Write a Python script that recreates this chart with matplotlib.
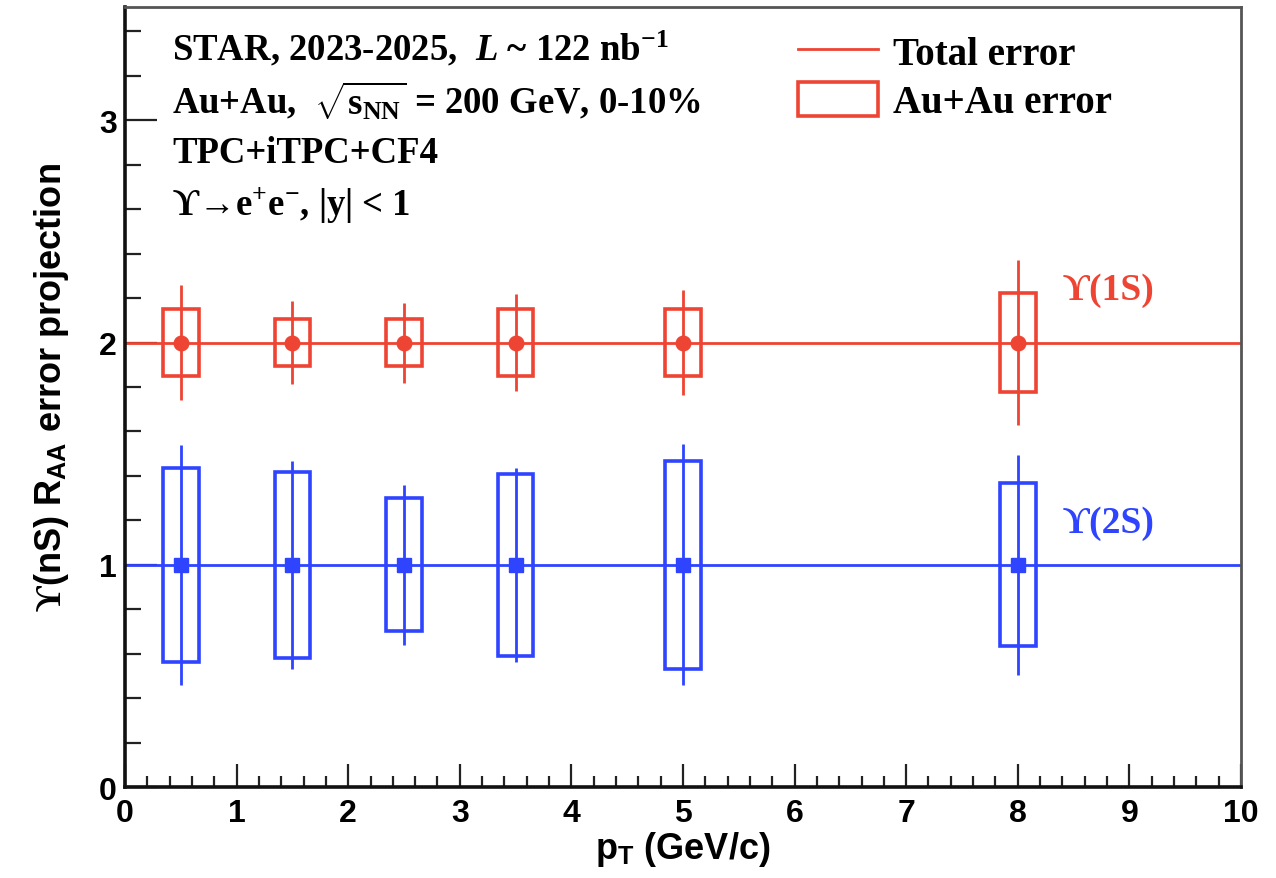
import matplotlib
matplotlib.use("Agg")
import matplotlib.pyplot as plt
from matplotlib.patches import Rectangle, Patch
from matplotlib.lines import Line2D
from matplotlib.ticker import MultipleLocator

plt.rcParams['mathtext.fontset'] = 'custom'
plt.rcParams['mathtext.rm'] = 'Liberation Serif:bold'
plt.rcParams['mathtext.bf'] = 'Liberation Serif:bold'
plt.rcParams['mathtext.it'] = 'Liberation Serif:italic:bold'
plt.rcParams['mathtext.sf'] = 'Liberation Sans:bold'

# pT bin centres (GeV/c)
pt = [0.5, 1.5, 2.5, 3.5, 5.0, 8.0]

# Y(1S): central value, total error, Au+Au error
raa_1s = [2.0, 2.0, 2.0, 2.0, 2.0, 2.0]
tot_1s = [0.26, 0.185, 0.18, 0.22, 0.237, 0.372]
auau_1s = [0.15, 0.105, 0.105, 0.15, 0.15, 0.222]

# Y(2S)
raa_2s = [1.0, 1.0, 1.0, 1.0, 1.0, 1.0]
tot_2s = [0.54, 0.468, 0.36, 0.436, 0.543, 0.495]
auau_2s = [0.437, 0.418, 0.30, 0.41, 0.467, 0.366]

RED = '#ee4433'
BLUE = '#2e44ff'
BOX_HW = 0.16

fig = plt.figure(figsize=(12.76, 8.79), dpi=100)
ax = fig.add_axes([0.098, 0.1035, 0.8745, 0.8875])

def draw_state(vals, tot, auau, color, marker, ms, ref):
    ax.axhline(ref, color=color, lw=2.0, zorder=2)
    for x, y, e in zip(pt, vals, auau):
        ax.add_patch(Rectangle((x - BOX_HW, y - e), 2 * BOX_HW, 2 * e,
                               fill=False, edgecolor=color, lw=2.6, zorder=3))
    ax.errorbar(pt, vals, yerr=tot, fmt=marker, color=color, ms=ms,
                elinewidth=2.0, capsize=0, zorder=4)

draw_state(raa_1s, tot_1s, auau_1s, RED, 'o', 10.5, 2.0)
draw_state(raa_2s, tot_2s, auau_2s, BLUE, 's', 10, 1.0)

ax.set_xlim(0, 10)
ax.set_ylim(0, 3.51)
ax.xaxis.set_major_locator(MultipleLocator(1))
ax.xaxis.set_minor_locator(MultipleLocator(0.2))
ax.yaxis.set_major_locator(MultipleLocator(1))
ax.yaxis.set_minor_locator(MultipleLocator(0.2))
ax.tick_params(which='both', direction='in', top=False, right=False, width=1.6, color='#222222')
ax.tick_params(axis='y', which='major', length=23, pad=6)
ax.tick_params(axis='y', which='minor', length=11.5)
ax.tick_params(axis='x', which='major', length=16.5, pad=8)
ax.tick_params(axis='x', which='minor', length=8)
for lab in ax.get_xticklabels() + ax.get_yticklabels():
    lab.set_fontfamily('Liberation Sans')
    lab.set_fontweight('bold')
    lab.set_fontsize(23)

for s in ['left', 'bottom']:
    ax.spines[s].set_linewidth(2.6)
    ax.spines[s].set_color('#111111')
for s in ['top', 'right']:
    ax.spines[s].set_linewidth(2.0)
    ax.spines[s].set_color('#555555')

ax.set_xlabel(r'p$_{\mathsf{T}}$ (GeV/c)', fontfamily='Liberation Sans',
              fontweight='bold', fontsize=26)
ax.set_ylabel('$\\mathrm{\u03d2}$(nS) R$_{\\mathsf{AA}}$ error projection',
              fontfamily='Liberation Sans', fontweight='bold', fontsize=26)
ax.xaxis.set_label_coords(0.5, -0.054)
ax.yaxis.set_label_coords(-0.048, 0.513)

serif = ['Liberation Serif', 'DejaVu Serif']
info = [
    r'STAR, 2023-2025,  $L$ ~ 122 nb$^{-1}$',
    r'Au+Au,  $\sqrt{\mathrm{s}_{\mathrm{NN}}}$ = 200 GeV, 0-10%',
    'TPC+iTPC+CF4',
    '\u03d2\u2192e$^{+}$e$^{-}$, |y| < 1',
]
for i, line in enumerate(info):
    ax.text(0.042, 0.948 - i * 0.067, line, transform=ax.transAxes,
            fontfamily=serif, fontweight='bold', fontsize=26.5, va='center')

ax.text(8.4, 2.24, '\u03d2(1S)', color=RED, fontfamily=serif,
        fontweight='bold', fontsize=27, va='center')
ax.text(8.4, 1.19, '\u03d2(2S)', color=BLUE, fontfamily=serif,
        fontweight='bold', fontsize=27, va='center')

handles = [Line2D([], [], color=RED, lw=2.0),
           Patch(facecolor='white', edgecolor=RED, lw=2.6)]
leg = ax.legend(handles, ['Total error', 'Au+Au error'], loc='upper left',
                bbox_to_anchor=(0.603, 0.966), frameon=False, borderpad=0,
                borderaxespad=0, handlelength=2.05, handleheight=0.95,
                handletextpad=0.4, labelspacing=0.25,
                prop={'family': 'Liberation Serif', 'weight': 'bold', 'size': 28})

fig.savefig('out.png', dpi=100)
